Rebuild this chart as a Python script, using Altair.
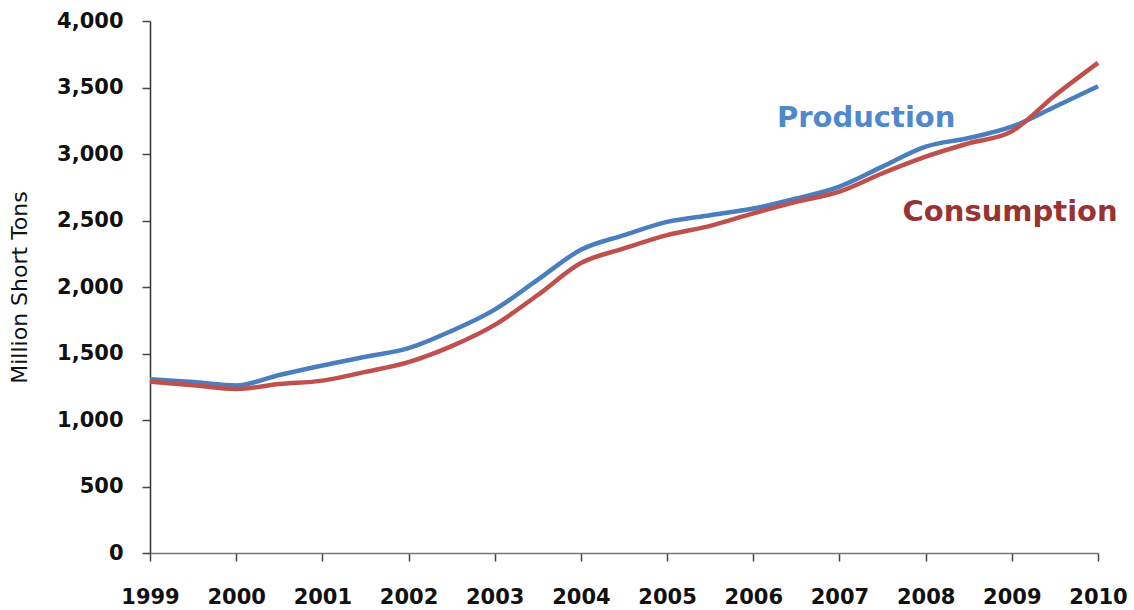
import altair as alt
import pandas as pd

years = [1999, 1999.5, 2000, 2000.5, 2001, 2001.5, 2002, 2002.5, 2003, 2003.5,
         2004, 2004.5, 2005, 2005.5, 2006, 2006.5, 2007, 2007.5, 2008, 2008.5,
         2009, 2009.5, 2010]
production = [1306, 1285, 1260, 1338, 1410, 1475, 1540, 1670, 1830, 2055,
              2280, 2390, 2490, 2540, 2590, 2665, 2755, 2905, 3055, 3120,
              3205, 3355, 3510]
consumption = [1288, 1262, 1233, 1270, 1296, 1362, 1435, 1555, 1715, 1940,
               2180, 2290, 2390, 2460, 2554, 2640, 2717, 2855, 2980, 3080,
               3170, 3440, 3685]

series_names = ["Production", "Consumption"]
series_colors = ["#4A7EBF", "#C0504D"]
label_colors = ["#4F88CC", "#993333"]
label_x = [2007.31, 2008.98]
label_y = [3270, 2564]
year_ticks = list(range(1999, 2011))
value_ticks = list(range(0, 4001, 500))

rows = []
for i, y in enumerate(years):
    rows.append({"year": y, "value": production[i], "series": "Production"})
    rows.append({"year": y, "value": consumption[i], "series": "Consumption"})
df = pd.DataFrame(rows)

labels = pd.DataFrame({"year": label_x, "value": label_y, "name": series_names})

x_enc = alt.X("year:Q", scale=alt.Scale(domain=[1999, 2010], nice=False, zero=False),
              axis=alt.Axis(values=year_ticks, format="d", title=None, grid=False,
                            tickSize=8, labelPadding=25, labelFontSize=21,
                            labelFont="DejaVu Sans", labelFontWeight="bold",
                            labelColor="#111", domainColor="#777", tickColor="#444",
                            domainWidth=1.5, tickWidth=1.5, labelFlush=False))
y_enc = alt.Y("value:Q", scale=alt.Scale(domain=[0, 4000], nice=False),
              axis=alt.Axis(values=value_ticks, format=",.0f", title="Million Short Tons",
                            grid=False, tickSize=8, labelPadding=19, labelFontSize=21,
                            labelFont="DejaVu Sans", labelFontWeight="bold",
                            labelColor="#111", domainColor="#333", tickColor="#444",
                            domainWidth=1.5, tickWidth=1.5,
                            titleFont="DejaVu Sans", titleFontSize=22,
                            titleFontWeight="normal", titleColor="#111",
                            titleX=-131, titleY=266, titleAngle=270,
                            titleAlign="center", titleBaseline="middle"))

lines = alt.Chart(df).mark_line(strokeWidth=4.5, interpolate="monotone").encode(
    x=x_enc,
    y=y_enc,
    color=alt.Color("series:N", scale=alt.Scale(domain=series_names, range=series_colors),
                    legend=None),
    order=alt.Order("year:Q"),
)

text = alt.Chart(labels).mark_text(fontSize=29, fontWeight="bold", font="DejaVu Sans",
                                   align="center", baseline="middle").encode(
    x="year:Q",
    y="value:Q",
    text="name:N",
    color=alt.Color("name:N", scale=alt.Scale(domain=series_names, range=label_colors),
                    legend=None),
)

chart = alt.layer(lines, text).resolve_scale(color="independent").properties(
    width=948, height=532,
    autosize=alt.AutoSizeParams(type="none"),
    padding={"left": 150, "top": 21, "right": 36, "bottom": 57},
    background="white",
).configure_view(stroke=None)

chart.save("out.html", embed_options={"renderer": "svg", "actions": False})
